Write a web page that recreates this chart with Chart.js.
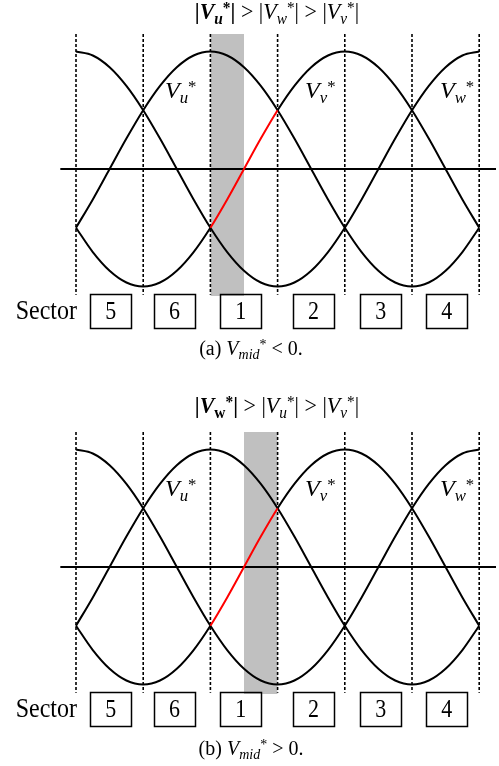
<!DOCTYPE html>
<html>
<head>
<meta charset="utf-8">
<script src="https://cdn.jsdelivr.net/npm/chart.js@4.4.1/dist/chart.umd.min.js"></script>
<style>
  html, body { margin: 0; padding: 0; background: #fff; }
  canvas { display: block; }
</style>
</head>
<body>
<canvas id="panelA" width="499" height="383"></canvas>
<canvas id="panelB" width="499" height="383"></canvas>
<script>
// phase angle (deg) and the three reference voltages, per unit
const angles = [0, 15, 30, 45, 60, 75, 90, 105, 120, 135, 150, 165, 180,
                195, 210, 225, 240, 255, 270, 285, 300, 315, 330, 345, 360];
const vuValues = [-0.5, -0.259, 0, 0.259, 0.5, 0.707, 0.866, 0.966, 1, 0.966, 0.866, 0.707, 0.5,
                  0.259, 0, -0.259, -0.5, -0.707, -0.866, -0.966, -1, -0.966, -0.866, -0.707, -0.5];
const vvValues = [-0.5, -0.707, -0.866, -0.966, -1, -0.966, -0.866, -0.707, -0.5, -0.259, 0, 0.259, 0.5,
                  0.707, 0.866, 0.966, 1, 0.966, 0.866, 0.707, 0.5, 0.259, 0, -0.259, -0.5];
const vwValues = [1, 0.966, 0.866, 0.707, 0.5, 0.259, 0, -0.259, -0.5, -0.707, -0.866, -0.966, -1,
                  -0.966, -0.866, -0.707, -0.5, -0.259, 0, 0.259, 0.5, 0.707, 0.866, 0.966, 1];

const sectorEdges = [0, 60, 120, 180, 240, 300, 360];
const sectorNames = ['5', '6', '1', '2', '3', '4'];
const midSpan = [120, 180];          // V_v* is the middle phase here (red)
const shadeA = [120, 150];
const shadeB = [150, 180];

// layout bits (degrees / per-unit, go through the scales)
const boxCenters = [31, 88, 147, 212, 272, 331];
const labelAngles = [79.5, 204.5, 325];
const FONT = '"Liberation Serif", "Times New Roman", serif';

function fontFor(style, size) {
  const it = style.includes('i') ? 'italic ' : '';
  const bd = style.includes('b') ? 'bold ' : '';
  return it + bd + size + 'px ' + FONT;
}

// draws a run list like [{t:'V', s:'i'}, {t:'u', s:'i', p:'sub'}]
function drawRich(ctx, runs, x, y, size, align, stretch) {
  const parts = runs.map(r => {
    const sz = r.p ? size * 0.7 : size;
    ctx.font = fontFor(r.s || '', sz);
    return { r, sz, w: ctx.measureText(r.t).width };
  });
  const total = parts.reduce((a, p) => a + p.w, 0);
  let cx = align === 'center' ? x - total / 2 : align === 'right' ? x - total : x;
  ctx.save();
  ctx.translate(0, y);
  ctx.scale(1, stretch || 1);
  ctx.textBaseline = 'alphabetic';
  ctx.textAlign = 'left';
  ctx.fillStyle = '#000';
  parts.forEach(p => {
    ctx.font = fontFor(p.r.s || '', p.sz);
    const dy = p.r.p === 'sub' ? size * 0.2 : p.r.p === 'sup' ? -size * 0.26 : 0;
    ctx.fillText(p.r.t, cx, dy);
    cx += p.w;
  });
  ctx.restore();
}

const titleA = [
  { t: '|', s: 'b' }, { t: 'V', s: 'bi' }, { t: 'u', s: 'bi', p: 'sub' }, { t: '*', s: 'b', p: 'sup' }, { t: '|', s: 'b' },
  { t: ' > |' }, { t: 'V', s: 'i' }, { t: 'w', s: 'i', p: 'sub' }, { t: '*', p: 'sup' },
  { t: '| > |' }, { t: 'V', s: 'i' }, { t: 'v', s: 'i', p: 'sub' }, { t: '*', p: 'sup' }, { t: '|' }
];
const titleB = [
  { t: '|', s: 'b' }, { t: 'V', s: 'bi' }, { t: 'w', s: 'b', p: 'sub' }, { t: '*', s: 'b', p: 'sup' }, { t: '|', s: 'b' },
  { t: ' > |' }, { t: 'V', s: 'i' }, { t: 'u', s: 'i', p: 'sub' }, { t: '*', p: 'sup' },
  { t: '| > |' }, { t: 'V', s: 'i' }, { t: 'v', s: 'i', p: 'sub' }, { t: '*', p: 'sup' }, { t: '|' }
];
const phaseLabels = ['u', 'v', 'w'];

function caption(tag, sign) {
  return [{ t: '(' + tag + ') ' }, { t: 'V', s: 'i' }, { t: 'mid', s: 'i', p: 'sub' },
          { t: '*', p: 'sup' }, { t: ' ' + sign + ' 0.' }];
}

function points(ys) {
  return angles.map((a, i) => ({ x: a, y: ys[i] }));
}

function makePanel(id, opts) {
  const curve = (ys, red) => ({
    data: points(ys),
    borderColor: '#000',
    borderWidth: 2,
    pointRadius: 0,
    cubicInterpolationMode: 'monotone',
    segment: red ? {
      borderColor: c => (c.p0.parsed.x >= midSpan[0] && c.p1.parsed.x <= midSpan[1]) ? '#ff0000' : '#000'
    } : undefined
  });

  const dotted = sectorEdges.map(a => ({
    data: [{ x: a, y: 1.15 }, { x: a, y: -1.07 }],
    borderColor: '#000',
    borderWidth: 1.6,
    borderDash: [3, 2],
    pointRadius: 0
  }));

  const datasets = [
    curve(vvValues, true),
    curve(vuValues),
    curve(vwValues),
    { data: [{ x: -14, y: 0 }, { x: 375, y: 0 }], borderColor: '#000', borderWidth: 2, pointRadius: 0 },
    ...dotted,
    {
      data: [{ x: opts.shade[0], y: 1.15 }, { x: opts.shade[1], y: 1.15 }],
      borderWidth: 0,
      pointRadius: 0,
      backgroundColor: '#c0c0c0',
      fill: { value: -1.08 }
    }
  ];

  const decor = {
    id: 'decor',
    afterDraw(chart) {
      const ctx = chart.ctx;
      const xs = chart.scales.x, ys = chart.scales.y;
      drawRich(ctx, opts.title, 277, ys.getPixelForValue(opts.titleY), 22, 'center', 1.05);

      phaseLabels.forEach((p, i) => {
        drawRich(ctx, [{ t: 'V', s: 'i' }, { t: p, s: 'i', p: 'sub' }, { t: '*', p: 'sup' }],
                 xs.getPixelForValue(labelAngles[i]), ys.getPixelForValue(0.604), 24, 'left', 1.0);
      });

      const top = ys.getPixelForValue(-1.064), bot = ys.getPixelForValue(-1.355);
      ctx.save();
      ctx.strokeStyle = '#000';
      ctx.lineWidth = 1.5;
      boxCenters.forEach((c, i) => {
        const cx = xs.getPixelForValue(c);
        ctx.strokeRect(Math.round(cx - 20.5) + 0.5, Math.round(top) + 0.5, 41, Math.round(bot - top));
        drawRich(ctx, [{ t: sectorNames[i] }], cx, (top + bot) / 2 + 7.5, 22, 'center', 1.15);
      });
      ctx.restore();
      drawRich(ctx, [{ t: 'Sector' }], 77, (top + bot) / 2 + 8, 24, 'right', 1.15);

      drawRich(ctx, opts.caption, 251, ys.getPixelForValue(opts.captionY), 20, 'center', 1.08);
    }
  };

  new Chart(document.getElementById(id), {
    type: 'line',
    data: { datasets },
    options: {
      responsive: false,
      animation: false,
      events: [],
      layout: { padding: { left: 53.6, right: 3, top: opts.padTop, bottom: 383 - opts.padTop - 282 } },
      scales: {
        x: { type: 'linear', min: -20, max: 375, display: false },
        y: { min: -1.2, max: 1.2, display: false }
      },
      plugins: { legend: { display: false }, tooltip: { enabled: false } }
    },
    plugins: [decor]
  });
}

makePanel('panelA', { shade: shadeA, title: titleA, titleY: 1.277, caption: caption('a', '<'), captionY: -1.583, padTop: 28 });
makePanel('panelB', { shade: shadeB, title: titleB, titleY: 1.31, caption: caption('b', '>'), captionY: -1.6, padTop: 43 });
</script>
</body>
</html>
